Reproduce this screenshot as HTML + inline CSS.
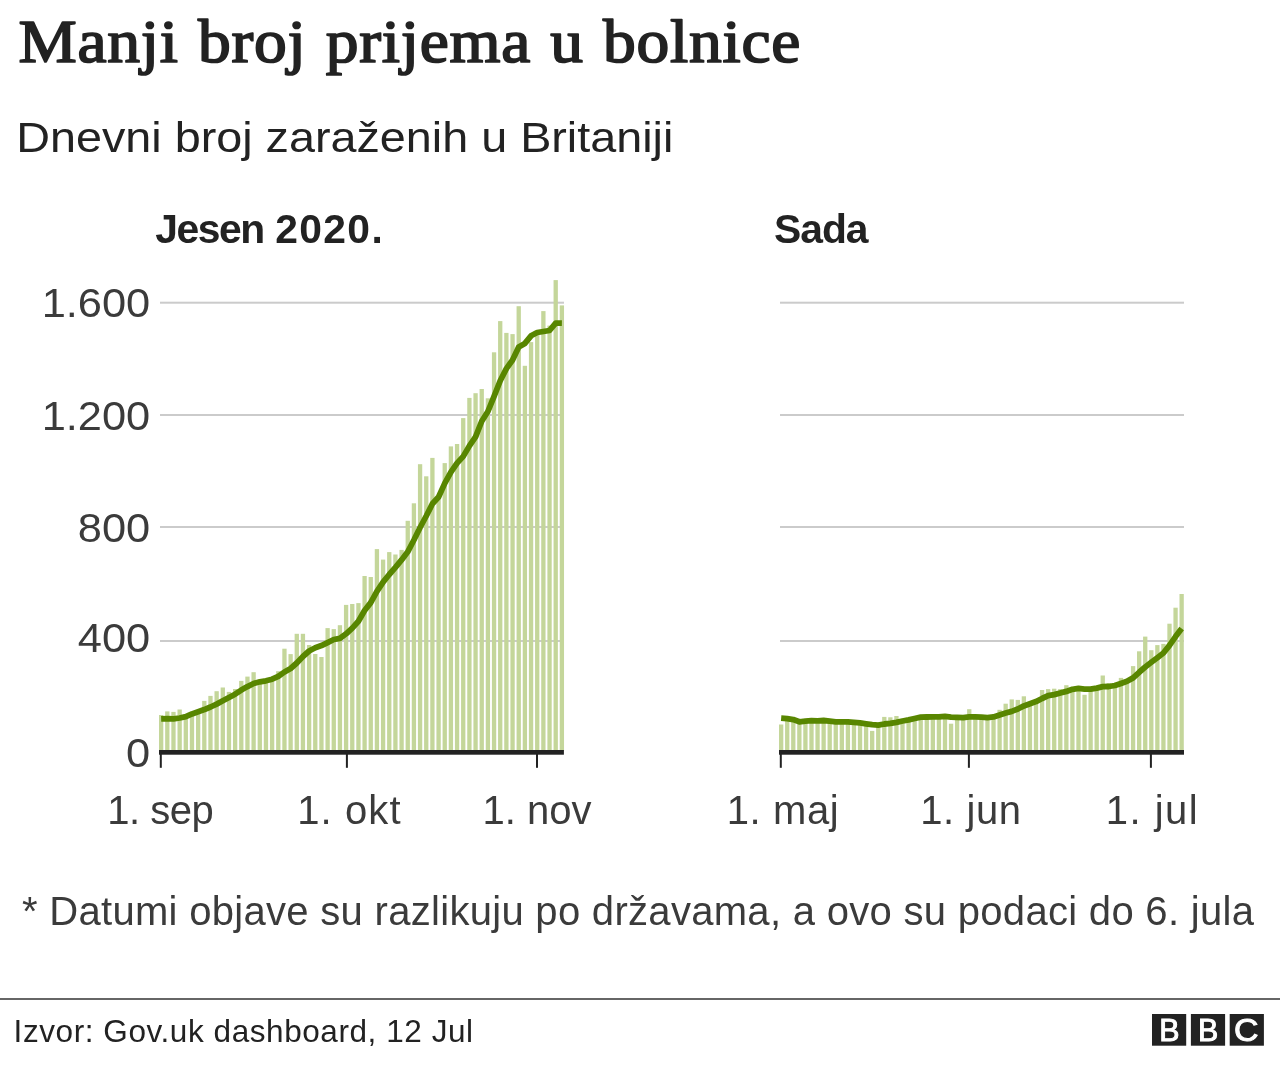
<!DOCTYPE html>
<html lang="sr">
<head>
<meta charset="utf-8">
<title>Manji broj prijema u bolnice</title>
<style>
html,body{margin:0;padding:0;background:#fff;}
body{width:1280px;height:1068px;overflow:hidden;}
svg{display:block;}
text{font-family:"Liberation Sans",sans-serif;}
.title{font-family:"Liberation Serif",serif;font-size:61px;fill:#222;stroke:#222;stroke-width:1.7px;stroke-linejoin:round;letter-spacing:0.7px;}
.sub{font-size:42px;fill:#222;}
.hd{font-weight:bold;font-size:40.8px;fill:#222;}
.ax text{font-size:40px;fill:#3b3b3b;}
.note{font-size:40px;fill:#3b3b3b;letter-spacing:0.3px;}
.src{font-size:31.5px;fill:#222;letter-spacing:0.57px;}
.bbc text{font-size:32px;fill:#fff;stroke:#fff;stroke-width:1px;}
</style>
</head>
<body>
<svg width="1280" height="1068" viewBox="0 0 1280 1068">
<rect width="1280" height="1068" fill="#fff"/>
<text class="title" transform="translate(18.4,62.3) scale(1.074,1)" word-spacing="2">Manji broj prijema u bolnice</text>
<text class="sub" transform="translate(16.2,151.8) scale(1.113,1)">Dnevni broj zaraženih u Britaniji</text>
<text class="hd" x="155.2" y="242.5"><tspan letter-spacing="-1.4">Jesen</tspan> <tspan letter-spacing="1.35">2020.</tspan></text>
<text class="hd" x="774" y="242.5" letter-spacing="-1">Sada</text>
<g fill="#cbcbcb">
<rect x="160" y="301.7" width="404" height="2"/>
<rect x="780" y="301.7" width="404" height="2"/>
<rect x="160" y="414.0" width="404" height="2"/>
<rect x="780" y="414.0" width="404" height="2"/>
<rect x="160" y="526.0" width="404" height="2"/>
<rect x="780" y="526.0" width="404" height="2"/>
<rect x="160" y="640.0" width="404" height="2"/>
<rect x="780" y="640.0" width="404" height="2"/>
</g>
<g fill="#c4d69a">
<rect x="159.00" y="715.0" width="4.3" height="36.0"/>
<rect x="165.16" y="711.4" width="4.3" height="39.6"/>
<rect x="171.33" y="711.9" width="4.3" height="39.1"/>
<rect x="177.50" y="709.5" width="4.3" height="41.5"/>
<rect x="183.66" y="717.2" width="4.3" height="33.8"/>
<rect x="189.82" y="714.4" width="4.3" height="36.6"/>
<rect x="195.99" y="712.3" width="4.3" height="38.7"/>
<rect x="202.16" y="700.9" width="4.3" height="50.1"/>
<rect x="208.32" y="695.9" width="4.3" height="55.1"/>
<rect x="214.49" y="691.2" width="4.3" height="59.8"/>
<rect x="220.65" y="687.5" width="4.3" height="63.5"/>
<rect x="226.81" y="691.9" width="4.3" height="59.1"/>
<rect x="232.98" y="689.0" width="4.3" height="62.0"/>
<rect x="239.14" y="680.9" width="4.3" height="70.1"/>
<rect x="245.31" y="676.6" width="4.3" height="74.4"/>
<rect x="251.47" y="672.2" width="4.3" height="78.8"/>
<rect x="257.64" y="682.3" width="4.3" height="68.7"/>
<rect x="263.81" y="681.3" width="4.3" height="69.7"/>
<rect x="269.97" y="679.7" width="4.3" height="71.3"/>
<rect x="276.13" y="671.2" width="4.3" height="79.8"/>
<rect x="282.30" y="648.7" width="4.3" height="102.3"/>
<rect x="288.47" y="654.1" width="4.3" height="96.9"/>
<rect x="294.63" y="633.8" width="4.3" height="117.2"/>
<rect x="300.79" y="633.8" width="4.3" height="117.2"/>
<rect x="306.96" y="645.0" width="4.3" height="106.0"/>
<rect x="313.12" y="654.0" width="4.3" height="97.0"/>
<rect x="319.29" y="657.0" width="4.3" height="94.0"/>
<rect x="325.46" y="628.1" width="4.3" height="122.9"/>
<rect x="331.62" y="629.1" width="4.3" height="121.9"/>
<rect x="337.78" y="625.2" width="4.3" height="125.8"/>
<rect x="343.95" y="604.9" width="4.3" height="146.1"/>
<rect x="350.12" y="604.0" width="4.3" height="147.0"/>
<rect x="356.28" y="603.1" width="4.3" height="147.9"/>
<rect x="362.44" y="576.0" width="4.3" height="175.0"/>
<rect x="368.61" y="577.0" width="4.3" height="174.0"/>
<rect x="374.77" y="549.1" width="4.3" height="201.9"/>
<rect x="380.94" y="559.6" width="4.3" height="191.4"/>
<rect x="387.11" y="552.1" width="4.3" height="198.9"/>
<rect x="393.27" y="554.5" width="4.3" height="196.5"/>
<rect x="399.44" y="549.9" width="4.3" height="201.1"/>
<rect x="405.60" y="520.8" width="4.3" height="230.2"/>
<rect x="411.76" y="503.3" width="4.3" height="247.7"/>
<rect x="417.93" y="464.2" width="4.3" height="286.8"/>
<rect x="424.10" y="476.3" width="4.3" height="274.7"/>
<rect x="430.26" y="457.9" width="4.3" height="293.1"/>
<rect x="436.43" y="497.5" width="4.3" height="253.5"/>
<rect x="442.59" y="463.1" width="4.3" height="287.9"/>
<rect x="448.75" y="446.4" width="4.3" height="304.6"/>
<rect x="454.92" y="444.0" width="4.3" height="307.0"/>
<rect x="461.08" y="418.1" width="4.3" height="332.9"/>
<rect x="467.25" y="397.9" width="4.3" height="353.1"/>
<rect x="473.42" y="393.2" width="4.3" height="357.8"/>
<rect x="479.58" y="389.0" width="4.3" height="362.0"/>
<rect x="485.75" y="398.3" width="4.3" height="352.7"/>
<rect x="491.91" y="352.3" width="4.3" height="398.7"/>
<rect x="498.07" y="321.1" width="4.3" height="429.9"/>
<rect x="504.24" y="332.9" width="4.3" height="418.1"/>
<rect x="510.41" y="334.1" width="4.3" height="416.9"/>
<rect x="516.57" y="306.2" width="4.3" height="444.8"/>
<rect x="522.74" y="365.8" width="4.3" height="385.2"/>
<rect x="528.90" y="342.1" width="4.3" height="408.9"/>
<rect x="535.07" y="333.0" width="4.3" height="418.0"/>
<rect x="541.23" y="311.1" width="4.3" height="439.9"/>
<rect x="547.39" y="325.6" width="4.3" height="425.4"/>
<rect x="553.56" y="280.1" width="4.3" height="470.9"/>
<rect x="559.73" y="305.4" width="4.3" height="445.6"/>
<rect x="779.00" y="724.5" width="4.3" height="26.5"/>
<rect x="785.07" y="719.2" width="4.3" height="31.8"/>
<rect x="791.14" y="720.1" width="4.3" height="30.9"/>
<rect x="797.20" y="722.3" width="4.3" height="28.7"/>
<rect x="803.27" y="721.7" width="4.3" height="29.3"/>
<rect x="809.34" y="721.2" width="4.3" height="29.8"/>
<rect x="815.41" y="721.3" width="4.3" height="29.7"/>
<rect x="821.48" y="721.0" width="4.3" height="30.0"/>
<rect x="827.54" y="721.7" width="4.3" height="29.3"/>
<rect x="833.61" y="722.3" width="4.3" height="28.7"/>
<rect x="839.68" y="722.4" width="4.3" height="28.6"/>
<rect x="845.75" y="722.4" width="4.3" height="28.6"/>
<rect x="851.82" y="722.8" width="4.3" height="28.2"/>
<rect x="857.88" y="723.4" width="4.3" height="27.6"/>
<rect x="863.95" y="724.3" width="4.3" height="26.7"/>
<rect x="870.02" y="730.9" width="4.3" height="20.1"/>
<rect x="876.09" y="725.6" width="4.3" height="25.4"/>
<rect x="882.16" y="716.9" width="4.3" height="34.1"/>
<rect x="888.22" y="717.3" width="4.3" height="33.7"/>
<rect x="894.29" y="716.0" width="4.3" height="35.0"/>
<rect x="900.36" y="721.5" width="4.3" height="29.5"/>
<rect x="906.43" y="720.4" width="4.3" height="30.6"/>
<rect x="912.50" y="719.0" width="4.3" height="32.0"/>
<rect x="918.56" y="717.6" width="4.3" height="33.4"/>
<rect x="924.63" y="717.5" width="4.3" height="33.5"/>
<rect x="930.70" y="717.4" width="4.3" height="33.6"/>
<rect x="936.77" y="717.4" width="4.3" height="33.6"/>
<rect x="942.84" y="716.9" width="4.3" height="34.1"/>
<rect x="948.90" y="723.7" width="4.3" height="27.3"/>
<rect x="954.97" y="717.8" width="4.3" height="33.2"/>
<rect x="961.04" y="718.1" width="4.3" height="32.9"/>
<rect x="967.11" y="709.2" width="4.3" height="41.8"/>
<rect x="973.18" y="717.4" width="4.3" height="33.6"/>
<rect x="979.24" y="717.6" width="4.3" height="33.4"/>
<rect x="985.31" y="718.1" width="4.3" height="32.9"/>
<rect x="991.38" y="717.4" width="4.3" height="33.6"/>
<rect x="997.45" y="709.8" width="4.3" height="41.2"/>
<rect x="1003.52" y="703.7" width="4.3" height="47.3"/>
<rect x="1009.58" y="699.4" width="4.3" height="51.6"/>
<rect x="1015.65" y="699.9" width="4.3" height="51.1"/>
<rect x="1021.72" y="696.3" width="4.3" height="54.7"/>
<rect x="1027.79" y="704.2" width="4.3" height="46.8"/>
<rect x="1033.86" y="702.1" width="4.3" height="48.9"/>
<rect x="1039.92" y="690.0" width="4.3" height="61.0"/>
<rect x="1045.99" y="689.1" width="4.3" height="61.9"/>
<rect x="1052.06" y="688.7" width="4.3" height="62.3"/>
<rect x="1058.13" y="689.1" width="4.3" height="61.9"/>
<rect x="1064.20" y="685.2" width="4.3" height="65.8"/>
<rect x="1070.26" y="689.8" width="4.3" height="61.2"/>
<rect x="1076.33" y="688.9" width="4.3" height="62.1"/>
<rect x="1082.40" y="694.8" width="4.3" height="56.2"/>
<rect x="1088.47" y="689.6" width="4.3" height="61.4"/>
<rect x="1094.54" y="688.6" width="4.3" height="62.4"/>
<rect x="1100.60" y="675.5" width="4.3" height="75.5"/>
<rect x="1106.67" y="683.2" width="4.3" height="67.8"/>
<rect x="1112.74" y="686.0" width="4.3" height="65.0"/>
<rect x="1118.81" y="677.9" width="4.3" height="73.1"/>
<rect x="1124.88" y="681.8" width="4.3" height="69.2"/>
<rect x="1130.94" y="666.1" width="4.3" height="84.9"/>
<rect x="1137.01" y="651.3" width="4.3" height="99.7"/>
<rect x="1143.08" y="636.6" width="4.3" height="114.4"/>
<rect x="1149.15" y="650.2" width="4.3" height="100.8"/>
<rect x="1155.22" y="645.1" width="4.3" height="105.9"/>
<rect x="1161.28" y="643.9" width="4.3" height="107.1"/>
<rect x="1167.35" y="623.7" width="4.3" height="127.3"/>
<rect x="1173.42" y="607.7" width="4.3" height="143.3"/>
<rect x="1179.49" y="594.0" width="4.3" height="157.0"/>
</g>
<g fill="none" stroke="#588600" stroke-width="5.8" stroke-linejoin="round" stroke-linecap="butt">
<path d="M161.15,718.9 L167.31,718.7 L173.48,718.9 L179.65,718.0 L185.81,716.7 L191.97,713.9 L198.14,711.8 L204.31,709.6 L210.47,707.0 L216.64,704.1 L222.80,700.8 L228.97,697.5 L235.13,694.2 L241.29,690.1 L247.46,686.6 L253.62,683.5 L259.79,681.8 L265.95,680.8 L272.12,679.2 L278.28,676.4 L284.45,672.0 L290.62,668.5 L296.78,663.0 L302.94,656.5 L309.11,651.0 L315.27,647.8 L321.44,645.6 L327.61,642.6 L333.77,639.5 L339.93,638.4 L346.10,633.8 L352.26,628.1 L358.43,621.3 L364.59,610.5 L370.76,602.6 L376.92,591.4 L383.09,582.1 L389.25,574.5 L395.42,567.4 L401.58,559.9 L407.75,551.8 L413.91,540.0 L420.08,527.5 L426.25,516.0 L432.41,503.8 L438.57,497.0 L444.74,483.4 L450.90,472.1 L457.07,463.1 L463.23,456.4 L469.40,445.9 L475.56,436.9 L481.73,421.2 L487.89,411.5 L494.06,396.3 L500.22,380.8 L506.39,368.6 L512.56,360.0 L518.72,346.9 L524.88,343.4 L531.05,335.8 L537.22,332.5 L543.38,331.5 L549.54,330.5 L555.71,323.1 L561.88,323.2"/>
<path d="M781.15,718.2 L787.22,718.7 L793.29,719.6 L799.35,721.8 L805.42,721.2 L811.49,720.7 L817.56,720.8 L823.63,720.5 L829.69,721.2 L835.76,721.8 L841.83,721.9 L847.90,721.9 L853.97,722.3 L860.03,722.9 L866.10,723.8 L872.17,724.7 L878.24,725.1 L884.31,724.0 L890.37,723.4 L896.44,722.3 L902.51,721.0 L908.58,719.9 L914.65,718.5 L920.71,717.1 L926.78,717.0 L932.85,716.9 L938.92,716.9 L944.99,716.4 L951.05,717.1 L957.12,717.3 L963.19,717.6 L969.26,716.9 L975.33,716.9 L981.39,717.1 L987.46,717.6 L993.53,716.9 L999.60,715.0 L1005.67,713.0 L1011.73,711.4 L1017.80,709.0 L1023.87,705.9 L1029.94,703.7 L1036.01,701.6 L1042.07,698.5 L1048.14,695.7 L1054.21,694.6 L1060.28,693.0 L1066.35,691.4 L1072.41,689.3 L1078.48,688.4 L1084.55,689.1 L1090.62,689.1 L1096.69,688.1 L1102.75,686.7 L1108.82,686.5 L1114.89,685.5 L1120.96,683.4 L1127.03,681.3 L1133.09,677.9 L1139.16,672.3 L1145.23,667.0 L1151.30,662.3 L1157.37,657.7 L1163.43,653.0 L1169.50,645.4 L1175.57,636.6 L1181.64,628.6"/>
</g>
<g fill="#222">
<rect x="159" y="750" width="404.9" height="4.7"/>
<rect x="779" y="750" width="405" height="4.7"/>
<rect x="159.8" y="752" width="2" height="15.8"/>
<rect x="345.9" y="752" width="2" height="15.8"/>
<rect x="536.0" y="752" width="2" height="15.8"/>
<rect x="779.8" y="752" width="2" height="15.8"/>
<rect x="967.9" y="752" width="2" height="15.8"/>
<rect x="1149.9" y="752" width="2" height="15.8"/>
</g>
<g class="ax">
<text transform="translate(150.2,316.6) scale(1.085,1)" text-anchor="end">1.600</text>
<text transform="translate(150.2,430.0) scale(1.085,1)" text-anchor="end">1.200</text>
<text transform="translate(150.2,541.7) scale(1.085,1)" text-anchor="end">800</text>
<text transform="translate(150.2,652.0) scale(1.085,1)" text-anchor="end">400</text>
<text transform="translate(150.2,767.3) scale(1.085,1)" text-anchor="end">0</text>
<text x="160.2" y="824.1" text-anchor="middle" letter-spacing="-0.5">1. sep</text>
<text x="349.4" y="824.1" text-anchor="middle" letter-spacing="1.1">1. okt</text>
<text x="537.0" y="824.1" text-anchor="middle" letter-spacing="0">1. nov</text>
<text x="783.0" y="824.1" text-anchor="middle" letter-spacing="0.6">1. maj</text>
<text x="970.9" y="824.1" text-anchor="middle" letter-spacing="0.6">1. jun</text>
<text x="1152.5" y="824.1" text-anchor="middle" letter-spacing="1.5">1. jul</text>
</g>
<text class="note" x="22" y="924.7">* Datumi objave su razlikuju po državama, a ovo su podaci do 6. jula</text>
<rect x="0" y="998" width="1280" height="2" fill="#666"/>
<text class="src" x="13.6" y="1042.1">Izvor: Gov.uk dashboard, 12 Jul</text>
<g class="bbc">
<rect x="1152" y="1014" width="34.2" height="31.7" fill="#222"/>
<rect x="1190.9" y="1014" width="34.2" height="31.7" fill="#222"/>
<rect x="1229.7" y="1014" width="34.2" height="31.7" fill="#222"/>
<text transform="translate(1169.3,1041.3) scale(0.95,1)" text-anchor="middle">B</text>
<text transform="translate(1208.2,1041.3) scale(0.95,1)" text-anchor="middle">B</text>
<text transform="translate(1246.2,1041.3) scale(1.06,1)" text-anchor="middle">C</text>
</g>
</svg>
</body>
</html>
